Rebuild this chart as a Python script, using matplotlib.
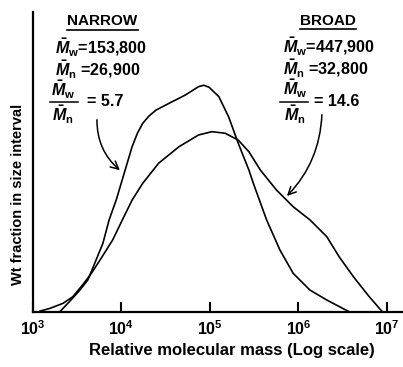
import matplotlib.pyplot as plt
from matplotlib.lines import Line2D
import numpy as np

plt.rcParams['font.family'] = ['Liberation Sans', 'DejaVu Sans']
plt.rcParams['font.weight'] = 'bold'
plt.rcParams['mathtext.fontset'] = 'custom'
plt.rcParams['mathtext.rm'] = 'Liberation Sans:bold'
plt.rcParams['mathtext.it'] = 'Liberation Sans:italic:bold'
plt.rcParams['mathtext.bf'] = 'Liberation Sans:bold'

# log10 of relative molecular mass, and weight fraction (relative to axis height)
narrow_logm = [3.30, 3.41, 3.53, 3.62, 3.69, 3.79, 3.86, 3.94, 4.03, 4.12, 4.18, 4.24,
               4.31, 4.39, 4.54, 4.72, 4.87, 4.93, 4.99, 5.10, 5.21, 5.32, 5.44, 5.49,
               5.64, 5.79, 5.94, 6.13, 6.32, 6.50, 6.58]
narrow_wt = [0.0, 0.034, 0.073, 0.107, 0.157, 0.229, 0.307, 0.373, 0.462, 0.551, 0.596, 0.629,
             0.653, 0.673, 0.696, 0.723, 0.751, 0.756, 0.749, 0.718, 0.651, 0.562, 0.473, 0.429,
             0.307, 0.207, 0.129, 0.073, 0.040, 0.012, 0.0]

broad_logm = [3.08, 3.19, 3.34, 3.45, 3.56, 3.66, 3.77, 3.90, 4.01, 4.12, 4.24,
              4.42, 4.65, 4.87, 5.02, 5.17, 5.32, 5.44, 5.57, 5.75, 5.94, 6.13,
              6.32, 6.46, 6.62, 6.80, 6.95]
broad_wt = [0.003, 0.012, 0.029, 0.051, 0.090, 0.129, 0.179, 0.240, 0.307, 0.373, 0.429,
            0.496, 0.551, 0.590, 0.601, 0.596, 0.573, 0.534, 0.473, 0.407, 0.351, 0.307,
            0.251, 0.184, 0.118, 0.051, 0.0]

xticks = [1e3, 1e4, 1e5, 1e6, 1e7]
xticklabels = [r'$10^3$', r'$10^4$', r'$10^5$', r'$10^6$', r'$10^7$']

W, H = 403, 367
fig = plt.figure(figsize=(W / 100, H / 100), dpi=100)
ax = fig.add_axes([33 / W, 1 - 312 / H, (402 - 33) / W, 300 / H])


def P(x, y):
    # pixel position (from top-left) -> figure fraction
    return x / W, 1 - y / H


ax.plot(10 ** np.array(narrow_logm), narrow_wt, color='black', lw=1.2,
        solid_joinstyle='round')
ax.plot(10 ** np.array(broad_logm), broad_wt, color='black', lw=1.2,
        solid_joinstyle='round')

ax.set_xscale('log')
ax.set_xlim(1e3, 10 ** 7.17)
ax.set_ylim(0, 1)
ax.set_xticks(xticks)
ax.set_xticklabels(xticklabels)
ax.minorticks_off()
ax.set_yticks([])
ax.tick_params(axis='x', direction='in', length=7, width=1.5, labelsize=11.5, pad=5)
for s in ['top', 'right']:
    ax.spines[s].set_visible(False)
for s in ['left', 'bottom']:
    ax.spines[s].set_linewidth(1.6)

fig.text(*P(232, 351), 'Relative molecular mass (Log scale)', ha='center', va='center',
         fontsize=12, fontweight='bold')
fig.text(*P(18.5, 194), 'Wt fraction in size interval', ha='center', va='center',
         rotation=90, fontsize=10.5, fontweight='bold')

# NARROW annotation
fig.text(*P(102, 21), 'NARROW', ha='center', va='center', fontsize=11)
fig.add_artist(Line2D([67 / W, 138 / W], [1 - 30 / H, 1 - 30 / H], color='black', lw=1.2))
fig.text(*P(55, 47), r'$\bar{M}_{\mathrm{w}}$=153,800', ha='left', va='center', fontsize=11.6)
fig.text(*P(55, 69), r'$\bar{M}_{\mathrm{n}}$ =26,900', ha='left', va='center', fontsize=11.6)
fig.text(*P(63, 90), r'$\bar{M}_{\mathrm{w}}$', ha='center', va='center', fontsize=11.6)
fig.add_artist(Line2D([50 / W, 78 / W], [1 - 102 / H, 1 - 102 / H], color='black', lw=1.1))
fig.text(*P(63, 115), r'$\bar{M}_{\mathrm{n}}$', ha='center', va='center', fontsize=11.6)
fig.text(*P(87, 102), '= 5.7', ha='left', va='center', fontsize=11.6)
ax.annotate('', xy=(122, H - 172), xycoords='figure pixels',
            xytext=(97, H - 117), textcoords='figure pixels',
            arrowprops=dict(arrowstyle='->', color='black', lw=1.1,
                            connectionstyle='arc3,rad=0.25', mutation_scale=14))

# BROAD annotation
fig.text(*P(328, 21), 'BROAD', ha='center', va='center', fontsize=11)
fig.add_artist(Line2D([300 / W, 356 / W], [1 - 29 / H, 1 - 29 / H], color='black', lw=1.2))
fig.text(*P(283, 46), r'$\bar{M}_{\mathrm{w}}$=447,900', ha='left', va='center', fontsize=11.6)
fig.text(*P(283, 68), r'$\bar{M}_{\mathrm{n}}$ =32,800', ha='left', va='center', fontsize=11.6)
fig.text(*P(295, 89), r'$\bar{M}_{\mathrm{w}}$', ha='center', va='center', fontsize=11.6)
fig.add_artist(Line2D([280 / W, 308 / W], [1 - 102 / H, 1 - 102 / H], color='black', lw=1.1))
fig.text(*P(295, 115), r'$\bar{M}_{\mathrm{n}}$', ha='center', va='center', fontsize=11.6)
fig.text(*P(314, 101), '= 14.6', ha='left', va='center', fontsize=11.6)
ax.annotate('', xy=(285, H - 198), xycoords='figure pixels',
            xytext=(322, H - 112), textcoords='figure pixels',
            arrowprops=dict(arrowstyle='->', color='black', lw=1.1,
                            connectionstyle='arc3,rad=-0.2', mutation_scale=14))

fig.savefig('out.png', dpi=100)
